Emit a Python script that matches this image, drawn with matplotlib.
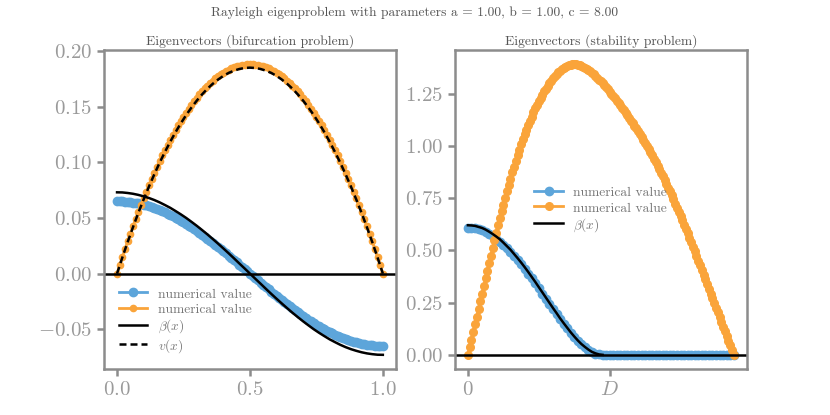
import numpy as np
import matplotlib
matplotlib.use('Agg')
import matplotlib.pyplot as plt

plt.rcParams.update({
	'font.family': 'serif',
	'font.serif': ['cmr10'],
	'mathtext.fontset': 'cm',
	'axes.formatter.use_mathtext': True,
})

BLUE = '#5DA5DA'
ORANGE = '#FAA43A'
SPINE = '#8c8c8c'
TICKLABEL = '#9a9a9a'

# --- left panel (bifurcation problem), x in [0, 1] ---
blue_left = [
	0.0650, 0.0650, 0.0649, 0.0647, 0.0645, 0.0642, 0.0638, 0.0634, 0.0630, 0.0624,
	0.0618, 0.0612, 0.0604, 0.0597, 0.0588, 0.0579, 0.0570, 0.0559, 0.0549, 0.0538,
	0.0526, 0.0514, 0.0501, 0.0488, 0.0474, 0.0460, 0.0445, 0.0430, 0.0414, 0.0398,
	0.0382, 0.0365, 0.0348, 0.0331, 0.0313, 0.0295, 0.0277, 0.0258, 0.0239, 0.0220,
	0.0201, 0.0181, 0.0162, 0.0142, 0.0122, 0.0102, 0.0081, 0.0061, 0.0041, 0.0020,
	0.0000,
	-0.0020, -0.0041, -0.0061, -0.0081, -0.0102, -0.0122, -0.0142, -0.0162, -0.0181, -0.0201,
	-0.0220, -0.0239, -0.0258, -0.0277, -0.0295, -0.0313, -0.0331, -0.0348, -0.0365, -0.0382,
	-0.0398, -0.0414, -0.0430, -0.0445, -0.0460, -0.0474, -0.0488, -0.0501, -0.0514, -0.0526,
	-0.0538, -0.0549, -0.0559, -0.0570, -0.0579, -0.0588, -0.0597, -0.0604, -0.0612, -0.0618,
	-0.0624, -0.0630, -0.0634, -0.0638, -0.0642, -0.0645, -0.0647, -0.0649, -0.0650, -0.0650,
]
orange_left = [
	0.0000, 0.0074, 0.0147, 0.0219, 0.0289, 0.0357, 0.0424, 0.0490, 0.0553, 0.0616,
	0.0677, 0.0736, 0.0794, 0.0851, 0.0905, 0.0959, 0.1011, 0.1061, 0.1110, 0.1157,
	0.1203, 0.1248, 0.1290, 0.1332, 0.1372, 0.1410, 0.1447, 0.1482, 0.1516, 0.1548,
	0.1579, 0.1609, 0.1636, 0.1663, 0.1688, 0.1711, 0.1733, 0.1753, 0.1772, 0.1789,
	0.1805, 0.1819, 0.1832, 0.1843, 0.1853, 0.1861, 0.1868, 0.1873, 0.1877, 0.1879,
	0.1880,
	0.1879, 0.1877, 0.1873, 0.1868, 0.1861, 0.1853, 0.1843, 0.1832, 0.1819, 0.1805,
	0.1789, 0.1772, 0.1753, 0.1733, 0.1711, 0.1688, 0.1663, 0.1636, 0.1609, 0.1579,
	0.1548, 0.1516, 0.1482, 0.1447, 0.1410, 0.1372, 0.1332, 0.1290, 0.1248, 0.1203,
	0.1157, 0.1110, 0.1061, 0.1011, 0.0959, 0.0905, 0.0851, 0.0794, 0.0736, 0.0677,
	0.0616, 0.0553, 0.0490, 0.0424, 0.0357, 0.0289, 0.0219, 0.0147, 0.0074, 0.0000,
]
beta_left = [
	0.0730, 0.0729, 0.0724, 0.0717, 0.0707, 0.0694, 0.0679, 0.0661, 0.0640, 0.0616,
	0.0591, 0.0562, 0.0532, 0.0500, 0.0465, 0.0429, 0.0391, 0.0352, 0.0311, 0.0269,
	0.0226, 0.0182, 0.0137, 0.0091, 0.0046, 0.0000,
	-0.0046, -0.0091, -0.0137, -0.0182, -0.0226, -0.0269, -0.0311, -0.0352, -0.0391, -0.0429,
	-0.0465, -0.0500, -0.0532, -0.0562, -0.0591, -0.0616, -0.0640, -0.0661, -0.0679, -0.0694,
	-0.0707, -0.0717, -0.0724, -0.0729, -0.0730,
]
v_left = [
	0.0000, 0.0145, 0.0284, 0.0417, 0.0545, 0.0666, 0.0781, 0.0891, 0.0995, 0.1092,
	0.1184, 0.1270, 0.1350, 0.1424, 0.1492, 0.1554, 0.1610, 0.1661, 0.1705, 0.1743,
	0.1776, 0.1803, 0.1823, 0.1838, 0.1847, 0.1850, 0.1847, 0.1838, 0.1823, 0.1803,
	0.1776, 0.1743, 0.1705, 0.1661, 0.1610, 0.1554, 0.1492, 0.1424, 0.1350, 0.1270,
	0.1184, 0.1092, 0.0995, 0.0891, 0.0781, 0.0666, 0.0545, 0.0417, 0.0284, 0.0145,
	0.0000,
]

# --- right panel (stability problem), x in [0, L] with L ~ 1.875 D ---
L_right = 1.875
D_right = 1.0
blue_right = [
	0.608, 0.607, 0.605, 0.600, 0.595, 0.587, 0.578, 0.567, 0.555, 0.542,
	0.527, 0.510, 0.493, 0.474, 0.454, 0.433, 0.412, 0.389, 0.366, 0.342,
	0.318, 0.293, 0.269, 0.244, 0.220, 0.196, 0.172, 0.149, 0.127, 0.106,
	0.086, 0.068, 0.051, 0.037, 0.024, 0.014, 0.006, 0.002, 0.000,
	0.0, 0.0, 0.0, 0.0, 0.0, 0.0, 0.0, 0.0, 0.0, 0.0,
	0.0, 0.0, 0.0, 0.0, 0.0, 0.0, 0.0, 0.0, 0.0, 0.0,
	0.0, 0.0, 0.0, 0.0, 0.0, 0.0, 0.0, 0.0, 0.0, 0.0,
	0.0, 0.0, 0.0, 0.0, 0.0, 0.0, 0.0,
]
orange_right = [
	0.000, 0.036, 0.073, 0.110, 0.147, 0.183, 0.219, 0.256, 0.293, 0.330,
	0.366, 0.402, 0.439, 0.475, 0.513, 0.549, 0.585,
	0.620, 0.653, 0.687, 0.719, 0.751, 0.782, 0.813, 0.843, 0.873, 0.901,
	0.929, 0.956, 0.982, 1.008, 1.032, 1.056, 1.077, 1.099, 1.121, 1.140,
	1.160, 1.179, 1.197, 1.213, 1.230, 1.245, 1.260, 1.273, 1.287, 1.300,
	1.312, 1.323, 1.332, 1.342, 1.351, 1.359, 1.366, 1.373, 1.379, 1.383,
	1.387, 1.389, 1.390, 1.390,
	1.390, 1.388, 1.386, 1.383, 1.378, 1.374, 1.368, 1.363,
	1.356, 1.349, 1.342, 1.334, 1.326, 1.317, 1.308, 1.299,
	1.289, 1.280, 1.270, 1.259, 1.249, 1.238, 1.227, 1.216,
	1.205, 1.193, 1.182, 1.170, 1.158, 1.146, 1.134, 1.121,
	1.108, 1.096, 1.083, 1.069, 1.056, 1.042, 1.028, 1.014,
	0.999, 0.984, 0.969, 0.954, 0.938, 0.922, 0.905, 0.889,
	0.872, 0.854, 0.837, 0.819, 0.800, 0.782, 0.763, 0.744,
	0.724, 0.704, 0.684, 0.664, 0.644, 0.623, 0.602, 0.581,
	0.560, 0.539, 0.517, 0.496,
	0.473, 0.451, 0.428, 0.406, 0.383, 0.361, 0.338, 0.315, 0.293, 0.270,
	0.248, 0.225, 0.203, 0.180, 0.158, 0.135, 0.113, 0.090, 0.068, 0.045,
	0.023, 0.000,
]
beta_right = [
	0.620, 0.619, 0.617, 0.612, 0.607, 0.599, 0.589, 0.578, 0.566, 0.553,
	0.537, 0.520, 0.503, 0.483, 0.463, 0.442, 0.420, 0.397, 0.373, 0.349,
	0.324, 0.299, 0.274, 0.249, 0.224, 0.200, 0.175, 0.152, 0.130, 0.108,
	0.088, 0.069, 0.052, 0.038, 0.025, 0.014, 0.007, 0.002, 0.000,
]
beta_right_end = 0.95

x_left = np.linspace(0, 1, len(blue_left))
x_left_line = np.linspace(0, 1, len(beta_left))
x_blue_r = np.linspace(0, L_right, len(blue_right))
x_orange_r = np.linspace(0, L_right, len(orange_right))
x_beta_r = np.linspace(0, beta_right_end, len(beta_right))

fig, (ax1, ax2) = plt.subplots(1, 2, figsize=(8.3, 4.15), dpi=100)
fig.suptitle('Rayleigh eigenproblem with parameters a = 1.00, b = 1.00, c = 8.00',
			 fontsize=9.7, color='#555555', y=0.985)

legend_kw = dict(frameon=False, fontsize=9.7, handlelength=2.1, handleheight=1.1,
				 labelspacing=0.1, labelcolor='#777777')

ax1.plot(x_left, blue_left, '-o', color=BLUE, ms=6, lw=2, label='numerical value')
ax1.plot(x_left, orange_left, '-o', color=ORANGE, ms=4.5, lw=2, label='numerical value')
ax1.plot(x_left_line, beta_left, '-', color='k', lw=1.8, label=r'$\beta(x)$')
ax1.plot(x_left_line, v_left, '--', color='k', lw=1.8, dashes=(2.8, 1.6), label=r'$v(x)$')
ax1.axhline(0, color='k', lw=1.8)
ax1.set_title('Eigenvectors (bifurcation problem)', fontsize=9.8, color='#555555', pad=4)
ax1.legend(loc='lower left', borderaxespad=0.7, **legend_kw)

ax2.plot(x_blue_r, blue_right, '-o', color=BLUE, ms=6, lw=2, label='numerical value')
ax2.plot(x_orange_r, orange_right, '-o', color=ORANGE, ms=5.5, lw=2, label='numerical value')
ax2.plot(x_beta_r, beta_right, '-', color='k', lw=1.8, label=r'$\beta(x)$')
ax2.axhline(0, color='k', lw=1.8)
ax2.set_xticks([0, D_right])
ax2.set_xticklabels(['$0$', '$D$'])
ax2.set_title('Eigenvectors (stability problem)', fontsize=9.8, color='#555555', pad=4)
ax2.legend(loc='center', **legend_kw)

for ax in (ax1, ax2):
	for s in ax.spines.values():
		s.set_color(SPINE)
		s.set_linewidth(1.8)
	ax.tick_params(axis='both', color=SPINE, labelcolor=TICKLABEL, labelsize=15,
				   width=1.8, length=5)

fig.savefig('out.png', dpi=100)
